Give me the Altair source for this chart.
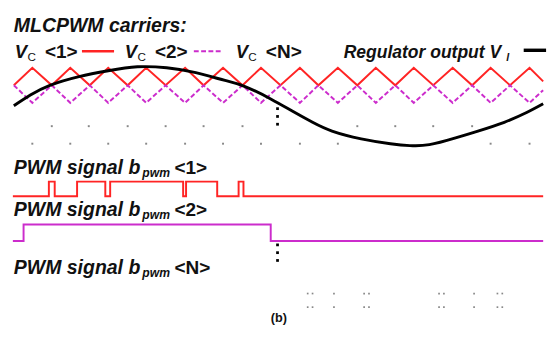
import altair as alt
import pandas as pd

# ---------------- data ----------------
# carrier vertices (time axis in picture units), both carriers share vertex times
carrier_t = [13, 32, 52, 71, 91, 110, 130, 149, 169, 189, 208, 228, 248, 267, 287,
             307, 326, 346, 366, 385, 405, 424, 444, 464, 484, 503, 523, 543, 557]
carrier1_v = [83, 65, 83, 65, 83, 65, 83, 65, 83, 65, 83, 65, 83, 65, 83,
              65, 83, 65, 83, 65, 83, 65, 83, 65, 83, 65, 83, 65, 79]
carrier2_v = [83, 101, 83, 101, 83, 101, 83, 101, 83, 101, 83, 101, 83, 101, 83,
              101, 83, 101, 83, 101, 83, 101, 83, 101, 83, 101, 83, 101, 88]

# regulator output V_l
regulator_t = [13, 30, 50, 80, 110, 140, 170, 200, 230, 250, 277, 300, 320, 340,
               370, 400, 420, 440, 467, 490, 517, 540, 557]
regulator_v = [104, 93, 83, 74, 68, 64, 65, 70, 78, 84, 97, 110, 121, 130,
               138, 143, 145, 144, 137, 130, 121, 111, 102]

# PWM signals (edge times and levels, step-after)
pwm1_t = [12, 49, 55, 78, 107, 112, 187, 190, 222, 244, 249, 557]
pwm1_v = [197, 182, 197, 182, 197, 182, 197, 182, 197, 182, 197, 197]
pwm2_t = [12, 23, 277, 557]
pwm2_v = [243, 226, 243, 243]

# faint reference dots
dots_row1_t = [52, 90, 130, 169, 208, 248, 366, 405, 444, 484]
dots_row2_t = [32, 71, 110, 149, 189, 228, 267, 307, 346, 503, 543]
vdots_t = [284, 284, 284, 284, 284, 284]
vdots_v = [107, 115, 123, 247, 255, 263]
bdots_t = [315, 320, 342, 373, 378, 450, 455, 486, 510, 515]
bdots_rows = [297, 311]

# ---------------- layout helpers ----------------
W, H = 541, 320
X = alt.Scale(domain=[8, 8 + W], nice=False, zero=False)
Y = alt.Scale(domain=[8, 8 + H], nice=False, zero=False, reverse=True)
x_ = lambda f: alt.X(f, type="quantitative", scale=X, axis=None)
y_ = lambda f: alt.Y(f, type="quantitative", scale=Y, axis=None)

RED = "#ff2424"
MAG = "#cc2ccc"
FONT = "Liberation Sans"

def line(t, v, color, width, dash=None, interp="linear"):
    df = pd.DataFrame({"t": t, "v": v, "o": range(len(t))})
    kw = dict(color=color, strokeWidth=width, interpolate=interp, clip=False)
    if dash:
        kw["strokeDash"] = dash
    return alt.Chart(df).mark_line(**kw).encode(x=x_("t"), y=y_("v"), order="o:Q")

c1 = line(carrier_t, carrier1_v, RED, 2)
c2 = line(carrier_t, carrier2_v, MAG, 2, dash=[5, 2.5])
reg = line(regulator_t, regulator_v, "#000000", 3, interp="natural")
p1 = line(pwm1_t, pwm1_v, RED, 2, interp="step-after")
p2 = line(pwm2_t, pwm2_v, MAG, 2, interp="step-after")

dots_df = pd.DataFrame({
    "t": dots_row1_t + dots_row2_t,
    "v": [125] * len(dots_row1_t) + [143] * len(dots_row2_t),
})
dots = alt.Chart(dots_df).mark_square(size=4, color="#888888", opacity=1).encode(
    x=x_("t"), y=y_("v"))

vd = alt.Chart(pd.DataFrame({"t": vdots_t, "v": vdots_v})).mark_square(
    size=8, color="#000000", opacity=1).encode(x=x_("t"), y=y_("v"))

bd_df = pd.DataFrame({
    "t": bdots_t * len(bdots_rows),
    "v": [r for r in bdots_rows for _ in bdots_t],
})
bd = alt.Chart(bd_df).mark_square(size=3, color="#888888", opacity=1).encode(
    x=x_("t"), y=y_("v"))

# legend keys
leg_df = pd.DataFrame({
    "k": ["c1", "c2", "reg"],
    "t": [83, 198, 537], "t2": [116, 227, 560], "v": [48, 48, 47],
})
leg_c1 = alt.Chart(leg_df[leg_df.k == "c1"]).mark_rule(color=RED, strokeWidth=2.5).encode(
    x=x_("t"), x2="t2", y=y_("v"))
leg_c2 = alt.Chart(leg_df[leg_df.k == "c2"]).mark_rule(
    color=MAG, strokeWidth=2, strokeDash=[5, 2.5]).encode(x=x_("t"), x2="t2", y=y_("v"))
leg_reg = alt.Chart(leg_df[leg_df.k == "reg"]).mark_rule(
    color="#000000", strokeWidth=3.5, clip=False).encode(x=x_("t"), x2="t2", y=y_("v"))

def texts(items, size, style="normal", weight="bold", color="#111111", font=FONT):
    df = pd.DataFrame(items, columns=["txt", "t", "v"])
    return alt.Chart(df).mark_text(
        font=font, fontSize=size, fontStyle=style, fontWeight=weight,
        align="left", baseline="alphabetic", color=color, clip=False
    ).encode(x=x_("t"), y=y_("v"), text="txt:N")

title_t = texts([["MLCPWM carriers:", 13, 28]], 20, style="italic")
legend_v = texts([["V", 14, 55], ["V", 127, 55], ["V", 241, 55]], 19, style="italic")
legend_reg = texts([["Regulator output V", 352, 55]], 18, style="italic")
pwm_labels = texts([
    ["PWM signal b", 13, 174],
    ["PWM signal b", 13, 217],
    ["PWM signal b", 13, 277],
], 20, style="italic")

main_upright = texts([
    ["<1>", 45, 55], ["<2>", 158, 55], ["<N>", 272, 55],
    ["<1>", 178, 174], ["<2>", 178, 217], ["<N>", 178, 277],
], 19.5)

subs_c = texts([["C", 27, 58], ["C", 140, 58], ["C", 254, 58]], 12, weight="normal")
sub_l = texts([["l", 519, 58]], 11, style="italic")
subs_pwm = texts([
    ["pwm", 145, 177], ["pwm", 145, 220], ["pwm", 145, 280],
], 12.5, style="italic")

label_b = texts([["(b)", 277, 326]], 13)

chart = alt.layer(
    dots, c1, c2, reg, p1, p2, vd, bd,
    leg_c1, leg_c2, leg_reg,
    title_t, legend_v, legend_reg, pwm_labels, main_upright,
    subs_c, sub_l, subs_pwm, label_b,
).properties(width=W, height=H, padding=0, background="white").configure_view(stroke=None)

chart.save("out.html", embed_options={"renderer": "svg", "actions": False})
